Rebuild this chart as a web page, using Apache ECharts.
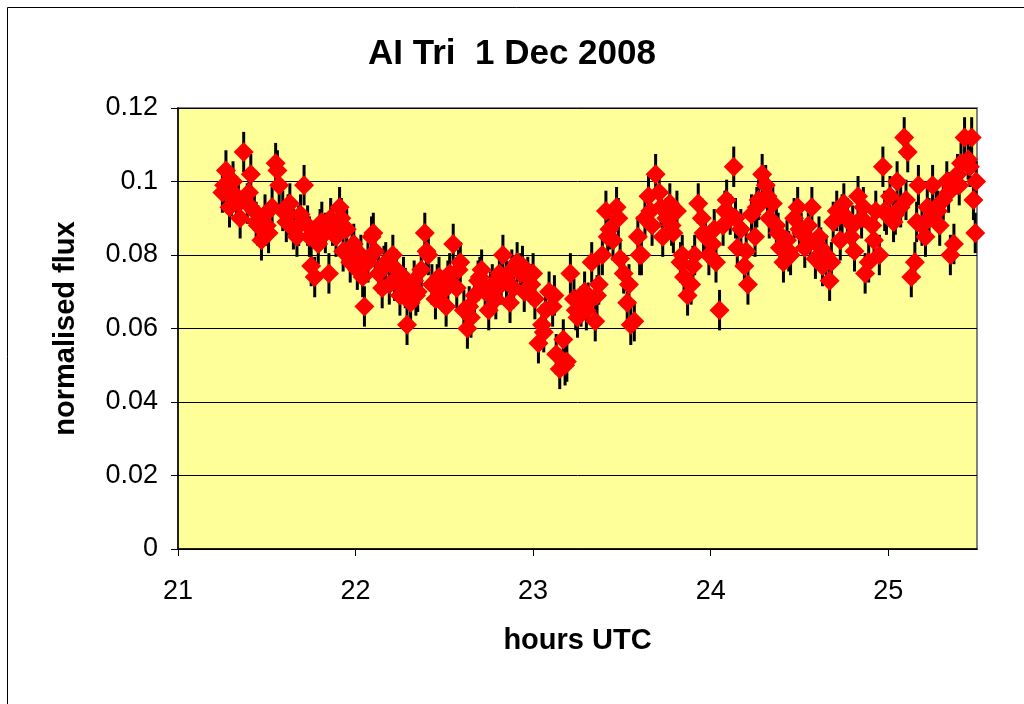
<!DOCTYPE html>
<html>
<head>
<meta charset="utf-8">
<script src="https://cdn.jsdelivr.net/npm/echarts@6/dist/echarts.min.js"></script>
<style>
  html, body { margin: 0; padding: 0; background: #fff; }
  #chart { width: 1024px; height: 704px; }
</style>
</head>
<body>
<div id="chart"></div>
<script>
// time of each measurement (hours UTC)
const hours = [
  21.25, 21.27, 21.29, 21.31, 21.33, 21.35, 21.37, 21.39, 21.41, 21.43,
  21.45, 21.47, 21.49, 21.51, 21.53, 21.55, 21.57, 21.59, 21.61, 21.63,
  21.65, 21.67, 21.69, 21.71, 21.73, 21.75, 21.77, 21.79, 21.81, 21.83,
  21.85, 21.87, 21.89, 21.91, 21.93, 21.95, 21.97, 21.99, 22.01, 22.03,
  22.05, 22.07, 22.09, 22.11, 22.13, 22.15, 22.17, 22.19, 22.21, 22.23,
  22.25, 22.27, 22.29, 22.31, 22.33, 22.35, 22.37, 22.39, 22.41, 22.43,
  22.45, 22.47, 22.49, 22.51, 22.53, 22.55, 22.57, 22.59, 22.61, 22.63,
  22.65, 22.67, 22.69, 22.71, 22.73, 22.75, 22.77, 22.79, 22.81, 22.83,
  22.85, 22.87, 22.89, 22.91, 22.93, 22.95, 22.97, 22.99, 23.01, 23.03,
  23.05, 23.07, 23.09, 23.11, 23.13, 23.15, 23.17, 23.19, 23.21, 23.23,
  23.25, 23.27, 23.29, 23.31, 23.33, 23.35, 23.37, 23.39, 23.41, 23.43,
  23.45, 23.47, 23.49, 23.51, 23.53, 23.55, 23.57, 23.59, 23.61, 23.63,
  23.65, 23.67, 23.69, 23.71, 23.73, 23.75, 23.77, 23.79, 23.81, 23.83,
  23.85, 23.87, 23.89, 23.91, 23.93, 23.95, 23.97, 23.99, 24.01, 24.03,
  24.05, 24.07, 24.09, 24.11, 24.13, 24.15, 24.17, 24.19, 24.21, 24.23,
  24.25, 24.27, 24.29, 24.31, 24.33, 24.35, 24.37, 24.39, 24.41, 24.43,
  24.45, 24.47, 24.49, 24.51, 24.53, 24.55, 24.57, 24.59, 24.61, 24.63,
  24.65, 24.67, 24.69, 24.71, 24.73, 24.75, 24.77, 24.79, 24.81, 24.83,
  24.85, 24.87, 24.89, 24.91, 24.93, 24.95, 24.97, 24.99, 25.01, 25.03,
  25.05, 25.07, 25.09, 25.11, 25.13, 25.15, 25.17, 25.19, 25.21, 25.23,
  25.25, 25.27, 25.29, 25.31, 25.33, 25.35, 25.37, 25.39, 25.41, 25.43,
  25.45, 25.47, 25.48, 25.49, 25.495,
  // in-between readings
  21.26, 21.30, 21.34, 21.40, 21.44, 21.50, 21.56, 21.62, 21.68, 21.74,
  21.80, 21.86, 21.92, 21.98, 22.04, 22.10, 22.16, 22.22, 22.28, 22.34,
  22.40, 22.46, 22.52, 22.58, 22.64, 22.70, 22.76, 22.82, 22.88, 22.94,
  23.00, 23.06, 23.12, 23.18, 23.24, 23.30, 23.36, 23.42, 23.48, 23.54,
  23.60, 23.66, 23.72, 23.78, 23.84, 23.90, 23.96, 24.02, 24.08, 24.14,
  24.20, 24.26, 24.32, 24.38, 24.44, 24.50, 24.56, 24.62, 24.68, 24.74,
  24.80, 24.86, 24.92, 24.98, 25.04, 25.10, 25.16, 25.22, 25.28, 25.34,
  25.40, 25.46
];

// normalised flux
const flux = [
  0.097, 0.103, 0.093, 0.100, 0.096, 0.090, 0.108, 0.094, 0.102, 0.092,
  0.088, 0.084, 0.091, 0.086, 0.093, 0.105, 0.099, 0.092, 0.089, 0.094,
  0.087, 0.085, 0.091, 0.099, 0.088, 0.077, 0.074, 0.083, 0.089, 0.086,
  0.075, 0.088, 0.085, 0.093, 0.081, 0.087, 0.078, 0.083, 0.076, 0.080,
  0.066, 0.078, 0.085, 0.081, 0.075, 0.071, 0.078, 0.072, 0.080, 0.076,
  0.069, 0.074, 0.061, 0.067, 0.073, 0.070, 0.076, 0.086, 0.080, 0.072,
  0.068, 0.074, 0.070, 0.066, 0.075, 0.083, 0.071, 0.078, 0.065, 0.060,
  0.063, 0.069, 0.073, 0.076, 0.070, 0.065, 0.072, 0.068, 0.075, 0.080,
  0.073, 0.067, 0.071, 0.078, 0.075, 0.070, 0.074, 0.072, 0.068, 0.056,
  0.061, 0.065, 0.070, 0.066, 0.053, 0.049, 0.057, 0.051, 0.075, 0.068,
  0.063, 0.066, 0.070, 0.067, 0.078, 0.062, 0.072, 0.080, 0.092, 0.087,
  0.084, 0.093, 0.079, 0.075, 0.067, 0.061, 0.062, 0.085, 0.080, 0.090,
  0.096, 0.088, 0.102, 0.097, 0.085, 0.090, 0.094, 0.086, 0.092, 0.078,
  0.074, 0.069, 0.072, 0.080, 0.094, 0.090, 0.085, 0.080, 0.083, 0.078,
  0.065, 0.088, 0.095, 0.091, 0.104, 0.082, 0.087, 0.077, 0.072, 0.091,
  0.085, 0.095, 0.102, 0.099, 0.090, 0.094, 0.088, 0.082, 0.078, 0.084,
  0.080, 0.090, 0.093, 0.086, 0.082, 0.088, 0.093, 0.079, 0.085, 0.077,
  0.080, 0.073, 0.089, 0.092, 0.084, 0.094, 0.090, 0.085, 0.081, 0.096,
  0.090, 0.075, 0.078, 0.088, 0.092, 0.080, 0.104, 0.091, 0.096, 0.089,
  0.100, 0.093, 0.112, 0.108, 0.074, 0.078, 0.099, 0.088, 0.085, 0.090,
  0.099, 0.093, 0.088, 0.095, 0.100, 0.080, 0.083, 0.102, 0.105, 0.112,
  0.106, 0.112, 0.095, 0.086, 0.100,
  // in-between readings
  0.099, 0.096, 0.094, 0.097, 0.089, 0.088, 0.103, 0.091, 0.088, 0.085,
  0.087, 0.090, 0.090, 0.081, 0.074, 0.086, 0.077, 0.073, 0.071, 0.069,
  0.081, 0.072, 0.073, 0.076, 0.066, 0.074, 0.070, 0.072, 0.076, 0.077,
  0.075, 0.059, 0.069, 0.050, 0.065, 0.065, 0.069, 0.085, 0.090, 0.072,
  0.080, 0.092, 0.093, 0.088, 0.080, 0.077, 0.086, 0.087, 0.092, 0.090,
  0.081, 0.093, 0.096, 0.086, 0.081, 0.087, 0.084, 0.082, 0.078, 0.091,
  0.088, 0.093, 0.084, 0.092, 0.091, 0.095, 0.089, 0.093, 0.092, 0.097,
  0.099, 0.104
];

// half length of the error bars
const fluxError = 0.0055;

const yTicks = [0, 0.02, 0.04, 0.06, 0.08, 0.1, 0.12];
const xTicks = [21, 22, 23, 24, 25];

const points = hours.map((h, i) => [h, flux[i]]);

const chart = echarts.init(document.getElementById('chart'));

chart.setOption({
  backgroundColor: '#ffffff',
  animation: false,
  textStyle: { fontFamily: 'Liberation Sans, Arial, sans-serif', color: '#000' },
  title: {
    text: 'AI Tri  1 Dec 2008',
    left: 'center',
    top: 32,
    textStyle: { fontSize: 35, fontWeight: 'bold', color: '#000', fontFamily: 'Liberation Sans, Arial, sans-serif' }
  },
  graphic: [
    {
      type: 'rect',
      shape: { x: 7.5, y: 7.5, width: 1100, height: 800 },
      style: { fill: 'none', stroke: '#000', lineWidth: 1 },
      silent: true
    }
  ],
  grid: {
    left: 178,
    top: 108,
    right: 47,
    bottom: 155,
    show: true,
    backgroundColor: '#FFFF99',
    borderColor: '#808080',
    borderWidth: 2
  },
  xAxis: {
    type: 'value',
    min: 21,
    max: 25.5,
    interval: 1,
    name: 'hours UTC',
    nameLocation: 'middle',
    nameGap: 77,
    nameTextStyle: { fontSize: 29, fontWeight: 'bold', color: '#000' },
    axisLine: { show: true, lineStyle: { color: '#000', width: 1.5 } },
    axisTick: { show: true, inside: false, length: 7, lineStyle: { color: '#000' } },
    axisLabel: {
      fontSize: 27,
      color: '#000',
      margin: 29,
      showMaxLabel: false,
      formatter: (v) => (xTicks.includes(v) ? String(v) : '')
    },
    splitLine: { show: false }
  },
  yAxis: {
    type: 'value',
    min: 0,
    max: 0.12,
    interval: 0.02,
    name: 'normalised flux',
    nameLocation: 'middle',
    nameGap: 98,
    nameTextStyle: { fontSize: 29, fontWeight: 'bold', color: '#000' },
    axisLine: { show: true, lineStyle: { color: '#000', width: 1.5 } },
    axisTick: { show: true, inside: false, length: 7, lineStyle: { color: '#000' } },
    axisLabel: {
      fontSize: 27,
      color: '#000',
      margin: 20,
      formatter: (v) => {
        const t = yTicks.find((k) => Math.abs(k - v) < 1e-9);
        return t === undefined ? '' : String(t);
      }
    },
    splitLine: { show: true, lineStyle: { color: '#000', width: 1 } }
  },
  series: [
    {
      name: 'error',
      type: 'custom',
      z: 2,
      data: points,
      renderItem: (params, api) => {
        const x = api.value(0);
        const y = api.value(1);
        const top = api.coord([x, y + fluxError]);
        const bottom = api.coord([x, y - fluxError]);
        return {
          type: 'line',
          shape: { x1: top[0], y1: top[1], x2: bottom[0], y2: bottom[1] },
          style: { stroke: '#000', lineWidth: 3 }
        };
      }
    },
    {
      name: 'flux',
      type: 'scatter',
      z: 3,
      data: points,
      symbol: 'diamond',
      symbolSize: 20,
      itemStyle: { color: '#FF0000', opacity: 1 }
    }
  ]
});
</script>
</body>
</html>
